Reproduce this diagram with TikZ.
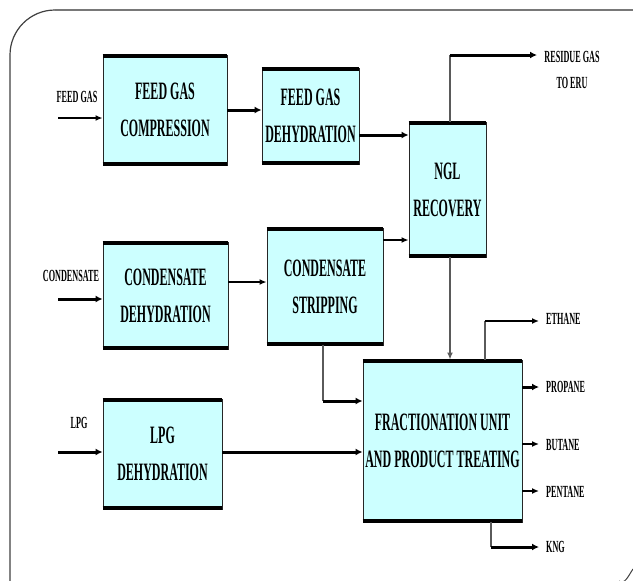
\documentclass[tikz,border=0pt]{standalone}
\usepackage{fontspec}
\setmainfont{Liberation Serif}[FakeStretch=0.48]
\usetikzlibrary{calc,arrows.meta,positioning}
\definecolor{unitCyan}{RGB}{204,255,255}
\definecolor{frameGray}{RGB}{120,120,120}
\definecolor{lineGray}{RGB}{90,90,90}
\tikzset{
  unit/.style={draw=black!85,line width=.9pt,fill=unitCyan,align=center,inner sep=0pt,
    font=\bfseries\fontsize{25}{37}\selectfont},
  tag/.style={inner sep=0pt,align=center,font=\bfseries\fontsize{17}{26}\selectfont},
  flowThin/.style={line width=1.4pt,-{Latex[length=7pt,width=6pt]}},
  flowThick/.style={line width=3pt,-{Latex[length=7pt,width=7pt]}},
  leg/.style={line width=1.3pt,draw=lineGray}
}
\begin{document}
\begin{tikzpicture}[x=1pt,y=-1pt]
\useasboundingbox (0,0) rectangle (633,581);
% slide frame
\draw[line width=1.2pt,draw=black!75,rounded corners=45pt] (10,581) -- (10,10) -- (56,10);
\draw[line width=2.2pt,draw=frameGray] (55,10) -- (633,10);
\draw[line width=1pt,draw=black!75] (619,581) to[out=-40,in=-125] (633,569);

% process units
\node[unit,minimum width=124pt,minimum height=110pt] (feedComp) at (165,110) {FEED GAS\\COMPRESSION};
\node[unit,minimum width=97pt,minimum height=96pt] (feedDehy) at (310.5,116) {FEED GAS\\DEHYDRATION};
\node[unit,minimum width=77pt,minimum height=135pt] (ngl) at (447.5,189.5) {NGL\\RECOVERY};
\node[unit,minimum width=125pt,minimum height=107pt] (condDehy) at (165.5,295.5) {CONDENSATE\\DEHYDRATION};
\node[unit,minimum width=116pt,minimum height=117pt] (condStrip) at (325,286.5) {CONDENSATE\\STRIPPING};
\node[unit,minimum width=119pt,minimum height=110pt] (lpgDehy) at (162.5,454) {LPG\\DEHYDRATION};
\node[unit,minimum width=159pt,minimum height=162pt] (fract) at (442.5,441) {FRACTIONATION UNIT\\AND PRODUCT TREATING};
\foreach \u in {feedComp,feedDehy,ngl,condDehy,condStrip,lpgDehy,fract}{
  \draw[line width=4pt] ([yshift=-1pt]\u.north west) -- ([yshift=-1pt]\u.north east);
  \draw[line width=4pt] ([yshift=1pt]\u.south west) -- ([yshift=1pt]\u.south east);
}

% feeds
\node[tag] (feedTag) at (77,97) {FEED GAS};
\node[tag] (condTag) at (71,276) {CONDENSATE};
\node[tag] (lpgTag) at (79,423) {LPG};
\coordinate (feedIn) at (58,118);
\coordinate (condIn) at (58,299);
\coordinate (lpgIn) at (58,452);
\draw[flowThin] (feedIn) -- (feedIn -| feedComp.west);
\draw[flowThick] (condIn) -- (condIn -| condDehy.west);
\draw[flowThick] (lpgIn) -- (lpgIn -| lpgDehy.west);

% products
\node[tag] (residueTag) at (572,70) {RESIDUE GAS\\TO ERU};
\node[tag,anchor=west] (ethaneTag) at (546,319) {ETHANE};
\node[tag,anchor=west] (propaneTag) at (546,387) {PROPANE};
\node[tag,anchor=west] (butaneTag) at (546,445) {BUTANE};
\node[tag,anchor=west] (pentaneTag) at (546,492) {PENTANE};
\node[tag,anchor=west] (kngTag) at (546,547) {KNG};
\coordinate (residueBend) at (450,55);
\coordinate (residueOut) at (537,55);
\coordinate (ethaneBend) at (485,321);
\coordinate (ethaneOut) at (539,321);
\coordinate (kngBend) at (491,547);
\coordinate (kngOut) at (539,547);
\coordinate (stripBend) at (323,401);

% connections between units
\draw[flowThick] (feedComp.east |- 0,110) -- (feedDehy.west |- 0,110);
\draw[flowThick] (feedDehy.east |- 0,135) -- (ngl.west |- 0,135);
\draw[flowThin] (condDehy.east |- 0,282) -- (condStrip.west |- 0,282);
\draw[flowThin] (condStrip.east |- 0,240) -- (ngl.west |- 0,240);
\draw[leg] (ngl.north -| residueBend) -- (residueBend);
\draw[flowThick] (residueBend) -- (residueOut);
\draw[flowThin,draw=lineGray] (ngl.south -| residueBend) -- (fract.north -| residueBend);
\draw[leg] (condStrip.south -| stripBend) -- (stripBend);
\draw[flowThick] (stripBend) -- (stripBend -| fract.west);
\draw[flowThick] (lpgDehy.east |- lpgIn) -- (fract.west |- lpgIn);
\draw[leg] (fract.north -| ethaneBend) -- (ethaneBend);
\draw[flowThin] (ethaneBend) -- (ethaneOut);
\draw[flowThick] (fract.east |- 0,387) -- (539,387);
\draw[flowThin] (fract.east |- 0,444) -- (539,444);
\draw[flowThin] (fract.east |- 0,491) -- (539,491);
\draw[leg] (fract.south -| kngBend) -- (kngBend);
\draw[flowThick] (kngBend) -- (kngOut);
\end{tikzpicture}
\end{document}
